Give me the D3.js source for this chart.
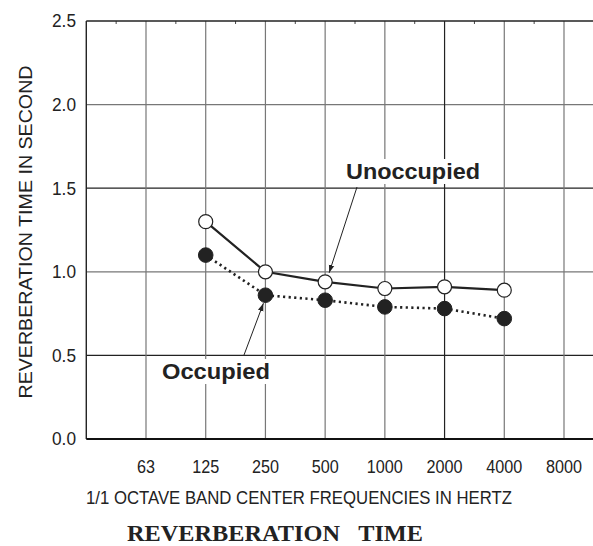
<!DOCTYPE html>
<html><head><meta charset="utf-8">
<script src="https://cdn.jsdelivr.net/npm/d3@7"></script>
<style>body{margin:0;background:#fff}svg{display:block}</style>
</head><body>
<svg id="c" width="593" height="546"></svg>
<script>
const freqs = ["63","125","250","500","1000","2000","4000","8000"];
const unoccupied = [null,1.30,1.00,0.94,0.90,0.91,0.89,null];
const occupied   = [null,1.10,0.86,0.83,0.79,0.78,0.72,null];
const yTicks = [0,0.5,1.0,1.5,2.0,2.5];
const yTickLabels = ["0.0","0.5","1.0","1.5","2.0","2.5"];
const labelUnocc = "Unoccupied", labelOcc = "Occupied";
const xTitle = "1/1 OCTAVE BAND CENTER FREQUENCIES IN HERTZ";
const yTitle = "REVERBERATION TIME IN SECOND";
const title = "REVERBERATION\u00a0\u00a0\u00a0TIME";

const svg = d3.select("#c");
const x = d3.scalePoint().domain(freqs).range([146,564]);
const step = x.step();
const left = x(freqs[0]) - step, right = x(freqs[freqs.length-1]) + step;
const y = d3.scaleLinear().domain([0,2.5]).range([439,21]);
const font = "'Liberation Sans', Arial, sans-serif";

const g = svg.append("g");
// horizontal grid
g.selectAll("line.h").data(yTicks.slice(1,-1)).join("line")
  .attr("x1",left).attr("x2",right).attr("y1",d=>y(d)).attr("y2",d=>y(d))
  .attr("stroke",(d,i)=> (i%2===0)?"#222":"#777").attr("stroke-width",1.2);
// vertical grid
g.selectAll("line.v").data(freqs).join("line")
  .attr("x1",d=>x(d)).attr("x2",d=>x(d)).attr("y1",y(2.5)).attr("y2",y(0))
  .attr("stroke",d=> d==="2000"?"#222":"#777").attr("stroke-width",1.2);
// minor ticks top
const mids = d3.range(freqs.length+1).map(i=>left + step*(i+0.5));
g.selectAll("line.m").data(mids).join("line")
  .attr("x1",d=>d).attr("x2",d=>d).attr("y1",y(2.5)).attr("y2",y(2.5)+3)
  .attr("stroke","#444").attr("stroke-width",1);
// frame
g.append("line").attr("x1",left).attr("x2",right).attr("y1",y(2.5)).attr("y2",y(2.5)).attr("stroke","#222").attr("stroke-width",1.4);
g.append("line").attr("x1",left).attr("x2",left).attr("y1",y(2.5)).attr("y2",y(0)).attr("stroke","#222").attr("stroke-width",1.4);
g.append("line").attr("x1",left).attr("x2",right).attr("y1",y(0)).attr("y2",y(0)).attr("stroke","#111").attr("stroke-width",2.2);

// y tick labels
g.selectAll("text.yt").data(yTicks).join("text")
  .attr("x",76).attr("y",d=>y(d)).attr("dy","0.35em").attr("text-anchor","end")
  .attr("font-family",font).attr("font-size",18).attr("fill","#222")
  .attr("textLength",24).attr("lengthAdjust","spacingAndGlyphs")
  .text((d,i)=>yTickLabels[i]);
// x tick labels
g.selectAll("text.xt").data(freqs).join("text")
  .attr("x",d=>x(d)).attr("y",473).attr("text-anchor","middle")
  .attr("font-family",font).attr("font-size",18).attr("fill","#222")
  .attr("textLength",d=>d.length*9).attr("lengthAdjust","spacingAndGlyphs").text(d=>d);

// titles
svg.append("text").attr("x",299).attr("y",504).attr("text-anchor","middle")
  .attr("font-family",font).attr("font-size",18).attr("fill","#222")
  .attr("textLength",426).attr("lengthAdjust","spacingAndGlyphs").text(xTitle);
svg.append("text").attr("transform","translate(32,232) rotate(-90)").attr("text-anchor","middle")
  .attr("font-family",font).attr("font-size",18).attr("fill","#222")
  .attr("textLength",333).attr("lengthAdjust","spacingAndGlyphs").text(yTitle);
svg.append("text").attr("x",275).attr("y",541).attr("text-anchor","middle")
  .attr("font-family","'Liberation Serif','Times New Roman',serif").attr("font-weight","bold")
  .attr("font-size",24).attr("fill","#222")
  .attr("textLength",296).attr("lengthAdjust","spacingAndGlyphs").text(title);

// arrow marker
const defs = svg.append("defs");
defs.append("marker").attr("id","arr").attr("viewBox","0 0 10 10").attr("refX",10).attr("refY",5)
  .attr("markerWidth",8).attr("markerHeight",8).attr("markerUnits","userSpaceOnUse").attr("orient","auto")
  .append("path").attr("d","M0,1.5 L10,5 L0,8.5 Z").attr("fill","#222");

// labels with white background
function label(txt, xx, yy, w){
  svg.append("rect").attr("x",xx-3).attr("y",yy-20).attr("width",w+6).attr("height",25).attr("fill","#fff");
  svg.append("text").attr("x",xx).attr("y",yy).attr("font-family",font).attr("font-weight","bold")
    .attr("font-size",22).attr("fill","#222").attr("textLength",w).attr("lengthAdjust","spacingAndGlyphs").text(txt);
}
label(labelUnocc, 346, 179, 134);
label(labelOcc, 162, 379, 108);

// arrows
svg.append("line").attr("x1",357).attr("y1",187).attr("x2",x("500")+4).attr("y2",y(unoccupied[3])-9)
  .attr("stroke","#222").attr("stroke-width",1).attr("marker-end","url(#arr)");
svg.append("line").attr("x1",244).attr("y1",355).attr("x2",x("250")-2).attr("y2",y(occupied[2])+8)
  .attr("stroke","#222").attr("stroke-width",1).attr("marker-end","url(#arr)");

// lines
const line = d3.line().defined(d=>d.v!=null).x(d=>x(d.f)).y(d=>y(d.v));
const uData = freqs.map((f,i)=>({f,v:unoccupied[i]}));
const oData = freqs.map((f,i)=>({f,v:occupied[i]}));
svg.append("path").datum(oData).attr("d",line).attr("fill","none").attr("stroke","#222")
  .attr("stroke-width",2.6).attr("stroke-dasharray","2.2,3.4");
svg.append("path").datum(uData).attr("d",line).attr("fill","none").attr("stroke","#222").attr("stroke-width",2.2);

svg.selectAll("circle.o").data(oData.filter(d=>d.v!=null)).join("circle")
  .attr("cx",d=>x(d.f)).attr("cy",d=>y(d.v)).attr("r",7.3).attr("fill","#222").attr("stroke","#222");
svg.selectAll("circle.u").data(uData.filter(d=>d.v!=null)).join("circle")
  .attr("cx",d=>x(d.f)).attr("cy",d=>y(d.v)).attr("r",7).attr("fill","#fff").attr("stroke","#222").attr("stroke-width",1.2);
</script>
</body></html>
